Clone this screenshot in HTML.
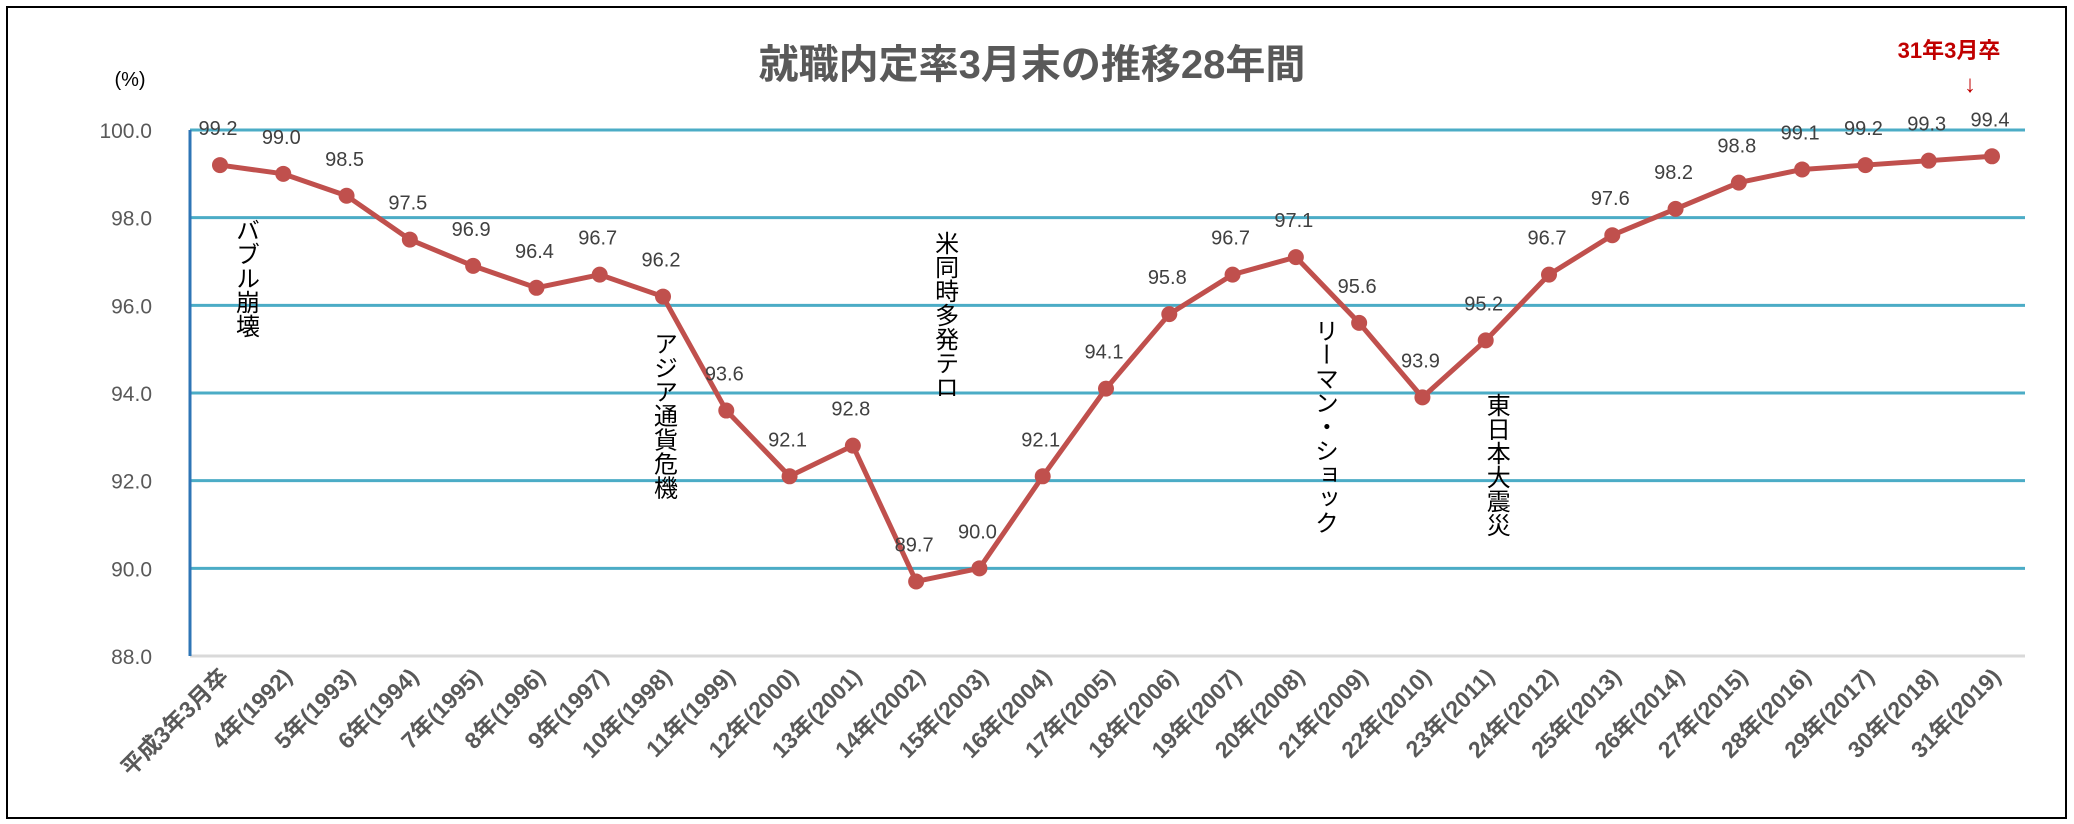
<!DOCTYPE html>
<html><head><meta charset="utf-8"><style>
body{margin:0;background:#fff;}
svg{display:block;font-family:"Liberation Sans","Noto Sans CJK JP",sans-serif;}
</style></head><body>
<svg id="c" width="2074" height="824">
<rect x="7" y="7" width="2059" height="811" fill="#fff" stroke="#000" stroke-width="2"/>
<text x="1032" y="78" text-anchor="middle" font-size="40" font-weight="bold" fill="#595959">就職内定率3月末の推移28年間</text>
<text x="130" y="86" text-anchor="middle" font-size="20" fill="#000">(%)</text>
<text x="1949" y="58" text-anchor="middle" font-size="22" font-weight="bold" fill="#c00000">31年3月卒</text>
<text x="1970" y="92" text-anchor="middle" font-size="24" fill="#c00000">↓</text>
<g id="grid"></g><g id="ann"></g><g id="series"></g><g id="xl"></g>
</svg>
<script>
const categories=["平成3年3月卒","4年(1992)","5年(1993)","6年(1994)","7年(1995)","8年(1996)","9年(1997)","10年(1998)","11年(1999)","12年(2000)","13年(2001)","14年(2002)","15年(2003)","16年(2004)","17年(2005)","18年(2006)","19年(2007)","20年(2008)","21年(2009)","22年(2010)","23年(2011)","24年(2012)","25年(2013)","26年(2014)","27年(2015)","28年(2016)","29年(2017)","30年(2018)","31年(2019)"];
const values=[99.2,99.0,98.5,97.5,96.9,96.4,96.7,96.2,93.6,92.1,92.8,89.7,90.0,92.1,94.1,95.8,96.7,97.1,95.6,93.9,95.2,96.7,97.6,98.2,98.8,99.1,99.2,99.3,99.4];
const yTicks=[88,90,92,94,96,98,100];
const annotations=[["バブル崩壊",0],["アジア通貨危機",7],["米同時多発テロ",11],["リーマン・ショック",17],["東日本大震災",20]];
const annY=[98.0,95.4,97.7,95.7,94.0];
const annDx=[25,0,28,28,10];
const NS="http://www.w3.org/2000/svg";
const x0=220,x1=1992,yTop=130,yBot=656;
const X=i=>x0+(x1-x0)*i/(categories.length-1);
const Y=v=>yBot-(v-88)/(100-88)*(yBot-yTop);
function mk(t,a,p){const e=document.createElementNS(NS,t);for(const k in a)e.setAttribute(k,a[k]);p.appendChild(e);return e;}
const g=document.getElementById('grid');
yTicks.forEach(t=>{
 if(t>88){const l=mk('line',{x1:190,x2:2025,y1:Y(t),y2:Y(t),stroke:'#4bacc6','stroke-width':3},g);
 
 }
 const tx=mk('text',{x:152,y:Y(t)+8,'text-anchor':'end','font-size':21,fill:'#595959'},g);tx.textContent=t.toFixed(1);
 
 
});
const base=mk('line',{x1:190,x2:2025,y1:yBot,y2:yBot,stroke:'#d9d9d9','stroke-width':3},g);


const ax=mk('line',{x1:190,x2:190,y1:yTop,y2:yBot,stroke:'#2e75b6','stroke-width':3},g);


const an=document.getElementById('ann');
annotations.forEach((a,k)=>{
 const t=mk('text',{x:X(a[1])+annDx[k],y:Y(annY[k]),'font-size':24,fill:'#000','writing-mode':'tb','glyph-orientation-vertical':0},an);
 t.textContent=a[0];
 
 
});
const s=document.getElementById('series');
const pl=mk('polyline',{points:values.map((v,i)=>X(i)+','+Y(v)).join(' '),fill:'none',stroke:'#c0504d','stroke-width':5,'stroke-linejoin':'round'},s);


values.forEach((v,i)=>{
 const c=mk('circle',{cx:X(i),cy:Y(v),r:8,fill:'#c0504d'},s);
 
 
 const t=mk('text',{x:X(i)-2,y:Y(v)-30,'text-anchor':'middle','font-size':20,fill:'#404040'},s);t.textContent=v.toFixed(1);
 
 
});
const xl=document.getElementById('xl');
categories.forEach((c,i)=>{
 const t=mk('text',{x:X(i)+10,y:678,'text-anchor':'end','font-size':23,'font-weight':'bold',fill:'#595959',transform:`rotate(-45 ${X(i)+10} 678)`},xl);
 t.textContent=c;
 
 
});
</script>
</body></html>
